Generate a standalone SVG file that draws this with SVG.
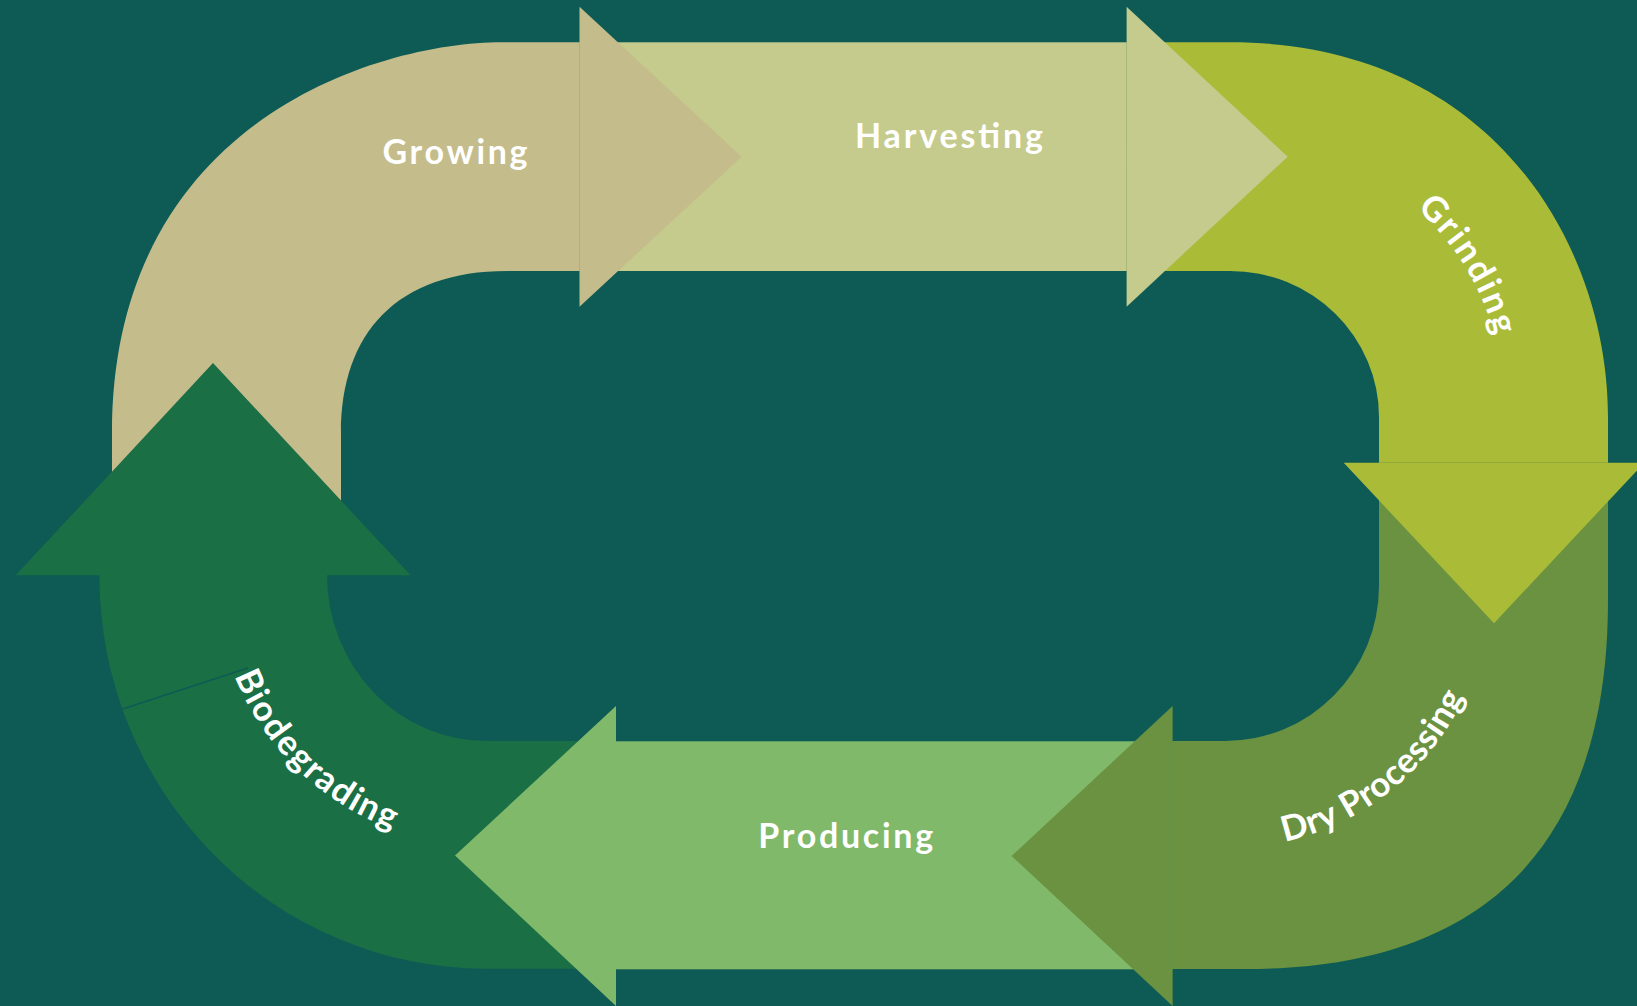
<svg xmlns="http://www.w3.org/2000/svg" width="1637" height="1006" viewBox="0 0 1637 1006">
<style>
.lbl{font-family:"Lato","Open Sans","Liberation Sans",sans-serif;font-weight:700;font-size:34px;fill:#FFFFFF}
.curv{font-size:35px}
</style>
<defs>
<path id="pGrind" d="M1298,146 A269,269 0 0 1 1497,472"/>
<path id="pDry" d="M1200.8,846.6 A260,260 0 0 0 1486.6,615.2"/>
<path id="pBio" d="M215,579.7 A271,271 0 0 0 490.7,846"/>
</defs>
<rect width="1637" height="1006" fill="#0E5B55"/>
<g id="connectors"></g>
<g id="biodegrading">
<path d="M616,741 L486,741 A159,166 0 0 1 327,575 L99.4,575 A387,393 0 0 0 486,968.7 L616,968.7 Z" fill="#1B6F45"/>
<polygon points="15.7,575.3 410.6,575.3 213,363" fill="#1B6F45"/>
<line x1="121.7" y1="709.3" x2="248" y2="668" stroke="#0E5B55" stroke-width="1.5"/>
<text class="lbl curv" letter-spacing="1.8"><textPath href="#pBio" startOffset="50%" text-anchor="middle">Biodegrading</textPath></text>
</g>
<g id="producing">
<rect x="616" y="741.3" width="556.6" height="228" fill="#80B96A"/>
<polygon points="616,706 455,855.5 616,1006" fill="#80B96A"/>
<text class="lbl" x="845.7" y="848" text-anchor="middle" textLength="175">Producing</text>
</g>
<g id="dry-processing">
<path d="M1379,462.7 L1379,586 A154,155 0 0 1 1225,741 L1172.6,741 L1172.6,969 L1246,969 C1460,969 1608,870 1608,600 L1608,462.7 Z" fill="#6A9241"/>
<polygon points="1172.6,706 1011.6,856 1172.6,1006" fill="#6A9241"/>
<text class="lbl curv" letter-spacing="0.5"><textPath href="#pDry" startOffset="50%" text-anchor="middle">Dry Processing</textPath></text>
</g>
<g id="grinding">
<path d="M1126.6,42.3 L1230,42.3 C1494.6,42.3 1608,248 1608,417 L1608,462.7 L1379,462.7 L1379,417 A149,146 0 0 0 1230,271 L1126.6,271 Z" fill="#AABB38"/>
<polygon points="1343.7,462.7 1644.3,462.7 1494,623.3" fill="#AABB38"/>
<text class="lbl curv" letter-spacing="2.5"><textPath href="#pGrind" startOffset="50%" text-anchor="middle">Grinding</textPath></text>
</g>
<g id="harvesting">
<rect x="579.5" y="42.3" width="547.1" height="228.7" fill="#C5CB8C"/>
<polygon points="1126.6,6.7 1287.7,156.7 1126.6,306.7" fill="#C5CB8C"/>
<text class="lbl" x="949" y="148" text-anchor="middle" textLength="188">Harvesting</text>
</g>
<g id="growing">
<path d="M579.5,42.3 L502,42.3 C380,42.3 112,120 112,433 L112,471.7 L213,363 L341,500.5 L341,433 C341,333 397,271 507,271 L579.5,271 Z" fill="#C4BC8B"/>
<polygon points="579.5,6.7 741.6,156.7 579.5,306.7" fill="#C4BC8B"/>
<text class="lbl" x="455" y="163.5" text-anchor="middle" textLength="145">Growing</text>
</g>
</svg>
